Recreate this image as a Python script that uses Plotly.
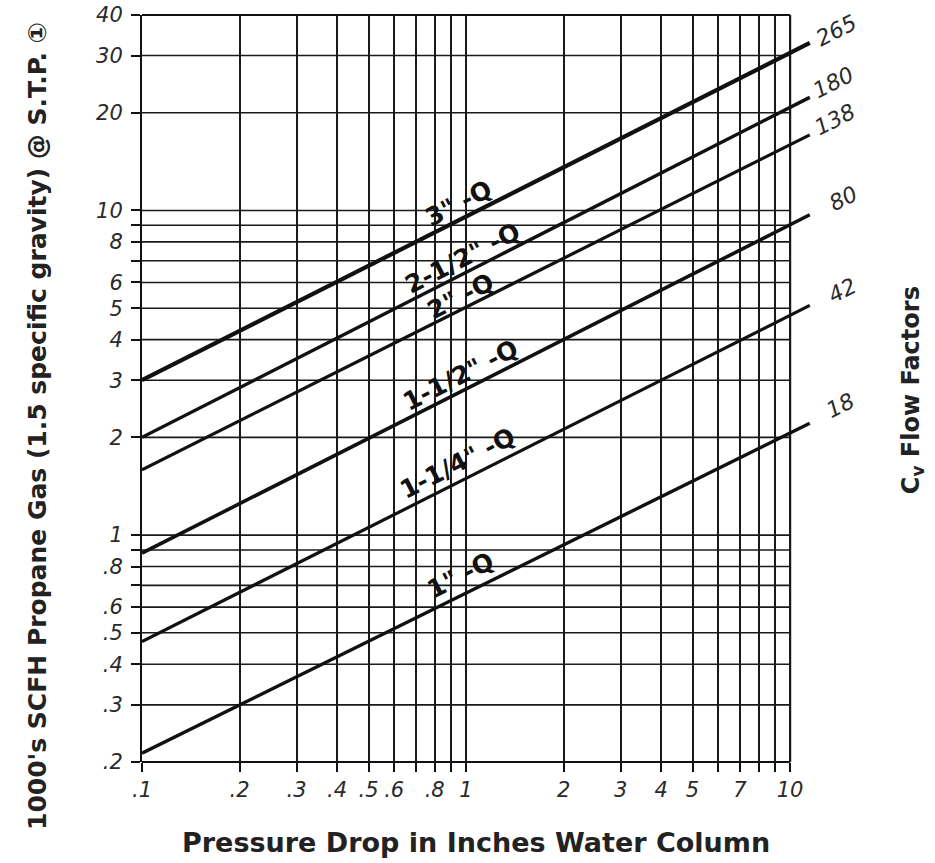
import math
import plotly.graph_objects as go

# Cv flow-factor lines: read at x = 0.1 and at the line ends (x ~ 11.5)
x_ends = [0.1, 11.5]
cv_labels = ["265", "180", "138", "80", "42", "18"]
cv_start = [3.0, 2.0, 1.59, 0.88, 0.47, 0.213]
cv_end = [32.8, 22.3, 17.1, 9.7, 5.1, 2.21]
cv_width = [4.2, 3.4, 3.2, 3.6, 3.2, 3.4]

pipe_labels = ['3" -Q', '2-1/2" -Q', '2" -Q', '1-1/2" -Q', '1-1/4" -Q', '1" -Q']

x_grid = [0.1, 0.2, 0.3, 0.4, 0.5, 0.6, 0.7, 0.8, 0.9, 1, 2, 3, 4, 5, 6, 7, 8, 9, 10]
x_text = [".1", ".2", ".3", ".4", ".5", ".6", "", ".8", "", "1", "2", "3", "4", "5", "", "7", "", "", "10"]
y_grid = [0.2, 0.3, 0.4, 0.5, 0.6, 0.7, 0.8, 0.9, 1, 2, 3, 4, 5, 6, 7, 8, 9, 10, 20, 30, 40]
y_text = [".2", ".3", ".4", ".5", ".6", "", ".8", "", "1", "2", "3", "4", "5", "6", "", "8", "", "10", "20", "30", "40"]

x_min, x_frame_max, x_axis_max = 0.1, 10, 11.6
y_min, y_max = 0.2, 40

# plot area in pixels of the reference (for placing text labels)
L, R, T, B = 142, 790, 15, 762   # the framed grid
W, H = 935, 863
R_AXIS = L + (R - L) * (math.log10(x_axis_max) - math.log10(x_min)) / 2.0

def px_to_paper(px, py):
    return (px - L) / (R_AXIS - L), (B - py) / (B - T)

fig = go.Figure()
for lab, y0, y1, lw in zip(cv_labels, cv_start, cv_end, cv_width):
    fig.add_trace(go.Scatter(x=x_ends, y=[y0, y1], mode="lines",
                             line=dict(color="#111", width=lw),
                             showlegend=False, hoverinfo="skip"))

tick_font = dict(family="DejaVu Sans", size=21, color="#2a2a2a", style="italic", weight=200)

fig.update_xaxes(type="log", range=[math.log10(x_min), math.log10(x_axis_max)],
                 tickmode="array", tickvals=x_grid, ticktext=x_text,
                 showgrid=True, gridcolor="#1a1a1a", gridwidth=1.6,
                 showline=False, zeroline=False, automargin=False,
                 ticks="outside", ticklen=9, tickwidth=2, tickcolor="#111",
                 tickfont=tick_font)
fig.update_yaxes(type="log", range=[math.log10(y_min) - 1e-6, math.log10(y_max) + 1e-6],
                 tickmode="array", tickvals=y_grid, ticktext=y_text,
                 showgrid=False, showline=True, linecolor="#111", linewidth=2,
                 zeroline=False, automargin=False,
                 ticks="outside", ticklen=9, tickwidth=2, tickcolor="#111",
                 ticklabelstandoff=4, ticklabeloverflow="allow", tickfont=tick_font)

shapes = []
for yv in y_grid:
    if yv in (y_min, y_max):
        continue
    shapes.append(dict(type="line", xref="x", yref="y", x0=x_min, x1=x_frame_max,
                       y0=yv, y1=yv, layer="below",
                       line=dict(color="#1a1a1a", width=1.6)))
# frame: top and bottom edges (paper y so they are not clipped) and right edge at x = 10
for yp in (0, 1):
    shapes.append(dict(type="line", xref="x", yref="paper", x0=x_min, x1=x_frame_max,
                       y0=yp, y1=yp, layer="below", line=dict(color="#111", width=2.2)))
shapes.append(dict(type="line", xref="x", yref="paper", x0=x_frame_max, x1=x_frame_max,
                   y0=0, y1=1, layer="below", line=dict(color="#111", width=2.2)))

ann = []
# Cv value labels at line ends
cv_pos = [(836, 30), (833, 82), (835, 120), (843, 198), (842, 290), (840, 405)]
for lab, (px, py) in zip(cv_labels, cv_pos):
    xp, yp = px_to_paper(px, py)
    ann.append(dict(x=xp, y=yp, xref="paper", yref="paper", text=lab, showarrow=False,
                    xanchor="center", yanchor="middle", textangle=-27,
                    font=dict(family="DejaVu Sans", size=22, color="#2a2a2a",
                              style="italic", weight=200)))
# pipe size labels
pipe_pos = [(458, 203), (462, 258), (460, 296), (460, 375), (457, 463), (460, 575)]
for lab, (px, py) in zip(pipe_labels, pipe_pos):
    xp, yp = px_to_paper(px, py)
    ann.append(dict(x=xp, y=yp, xref="paper", yref="paper", text=lab, showarrow=False,
                    xanchor="center", yanchor="middle", textangle=-27,
                    font=dict(family="DejaVu Sans", size=25, color="#111", weight="bold")))
# axis titles
xp, yp = px_to_paper(476, 842)
ann.append(dict(x=xp, y=yp, xref="paper", yref="paper", xanchor="center", yanchor="middle",
                text="Pressure Drop in Inches Water Column", showarrow=False,
                font=dict(family="DejaVu Sans", size=27, color="#222", weight="bold")))
xp, yp = px_to_paper(38, 426)
ann.append(dict(x=xp, y=yp, xref="paper", yref="paper", xanchor="center", yanchor="middle",
                text="1000's SCFH Propane Gas (1.5 specific gravity) @ S.T.P. \u2460",
                showarrow=False, textangle=-90,
                font=dict(family="DejaVu Sans", size=25, color="#222", weight="bold")))
xp, yp = px_to_paper(912, 390)
ann.append(dict(x=xp, y=yp, xref="paper", yref="paper", xanchor="center", yanchor="middle",
                text="C<sub>v</sub> Flow Factors", showarrow=False, textangle=-90,
                font=dict(family="DejaVu Sans", size=24, color="#222", weight="bold")))

fig.update_layout(width=W, height=H,
                  margin=dict(l=L, r=W - R_AXIS, t=T, b=H - B, autoexpand=False),
                  paper_bgcolor="white", plot_bgcolor="white", annotations=ann,
                  shapes=shapes, showlegend=False)

# remove the default page margin so the figure sits at the window origin
fig.write_html("out.html", config={"displayModeBar": False},
               post_script="document.body.style.margin='0';")
